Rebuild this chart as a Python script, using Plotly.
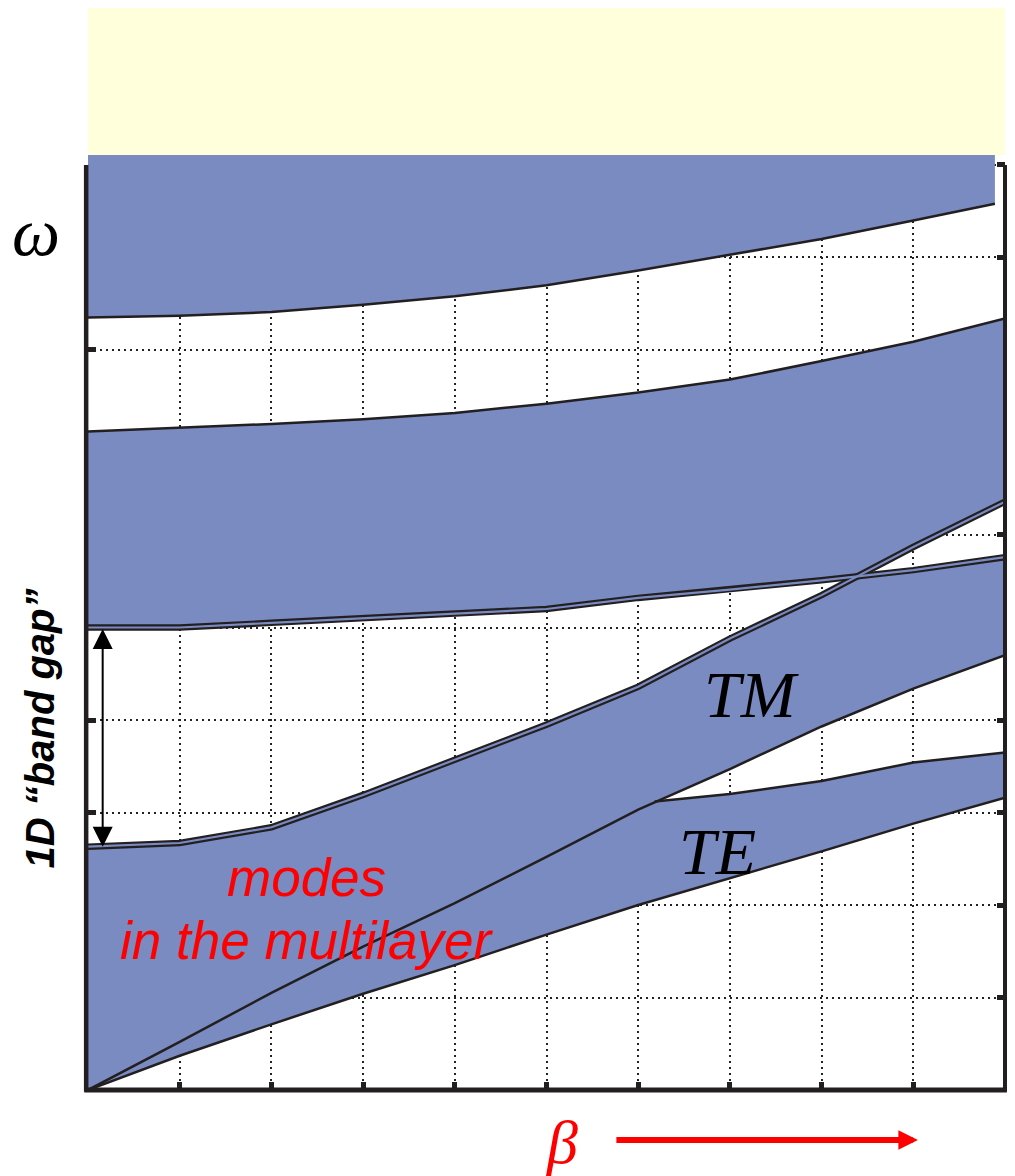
import plotly.graph_objects as go

# ---------------- data ----------------
BETA = [0, 1, 2, 3, 4, 5, 6, 7, 8, 9, 10]
TOP_X = [0, 1, 2, 3, 4, 5, 6, 7, 8, 9, 9.89]
TOP_EDGE = [8.35, 8.37, 8.41, 8.49, 8.58, 8.70, 8.86, 9.03, 9.20, 9.40, 9.58]
BAND2_TOP = [7.12, 7.16, 7.20, 7.25, 7.32, 7.42, 7.54, 7.68, 7.88, 8.09, 8.34]
BAND2_BOT = [5.00, 5.00, 5.05, 5.10, 5.15, 5.20, 5.32, 5.41, 5.51, 5.62, 5.76]
TM_TOP = [2.63, 2.67, 2.84, 3.19, 3.57, 3.95, 4.36, 4.88, 5.35, 5.87, 6.36]
TM_BOT = [0, 0.52, 1.05, 1.55, 2.02, 2.52, 3.03, 3.47, 3.93, 4.34, 4.70]
TE_TOP_X = [6.18, 7, 8, 9, 10]
TE_TOP = [3.12, 3.20, 3.34, 3.54, 3.65]
TE_BOT = [0, 0.37, 0.71, 1.04, 1.35, 1.68, 2.00, 2.29, 2.58, 2.88, 3.16]
GRID_TICKS = [1, 2, 3, 4, 5, 6, 7, 8, 9]
Y_TICKS = [1, 2, 3, 4, 5, 6, 7, 8, 9, 10]

# ---------------- style ----------------
BLUE = "#798BC0"
INK = "#231F20"
YELLOW = "#FFFFDC"
X_MAX = 10
Y_MAX = 10.108


def envelope(x, a, b):
    xs, lo, hi = [], [], []
    for i in range(len(x)):
        if i > 0:
            d0 = a[i - 1] - b[i - 1]
            d1 = a[i] - b[i]
            if d0 * d1 < 0:
                t = d0 / (d0 - d1)
                xc = x[i - 1] + t * (x[i] - x[i - 1])
                yc = a[i - 1] + t * (a[i] - a[i - 1])
                xs.append(xc); lo.append(yc); hi.append(yc)
        xs.append(x[i]); lo.append(min(a[i], b[i])); hi.append(max(a[i], b[i]))
    return xs, lo, hi


env_x, env_lo, env_hi = envelope(BETA, BAND2_BOT, TM_TOP)

fig = go.Figure()


def poly(x, y):
    fig.add_trace(go.Scatter(x=x, y=y, mode="lines", fill="toself",
                             fillcolor=BLUE, line=dict(width=0, color=BLUE),
                             hoverinfo="skip", showlegend=False))


def line(x, y, width, color=INK):
    fig.add_trace(go.Scatter(x=x, y=y, mode="lines",
                             line=dict(width=width, color=color),
                             hoverinfo="skip", showlegend=False))


# top band
poly(TOP_X + [TOP_X[-1], TOP_X[0]], TOP_EDGE + [Y_MAX, Y_MAX])
# second band
poly(BETA + env_x[::-1], BAND2_TOP + env_hi[::-1])
# TM band
poly(BETA + env_x[::-1], TM_BOT + env_lo[::-1])
# TE band
left_part = [(b, v) for b, v in zip(BETA, TM_BOT) if b < TE_TOP_X[0]][::-1]
poly(BETA + TE_TOP_X[::-1] + [p[0] for p in left_part],
     TE_BOT + TE_TOP[::-1] + [p[1] for p in left_part])

# double lines
for yy in (BAND2_BOT, TM_TOP):
    line(BETA, yy, 6.5)
for yy in (BAND2_BOT, TM_TOP):
    line(BETA, yy, 2.2, BLUE)

# single lines
line(TOP_X, TOP_EDGE, 2.5)
line(BETA, BAND2_TOP, 2.5)
line(BETA, TM_BOT, 2.5)
line(TE_TOP_X, TE_TOP, 2.5)
line(BETA, TE_BOT, 2.5)

grid_common = dict(showgrid=True, gridcolor="#222222", gridwidth=1.6,
                   griddash="1.8px,4.2px", zeroline=False, showline=False,
                   ticks="inside", ticklen=8, tickwidth=5, tickcolor=INK,
                   showticklabels=False, layer="below traces")

fig.update_xaxes(range=[0, X_MAX], tickvals=GRID_TICKS, **grid_common)
fig.update_yaxes(range=[0, Y_MAX], tickvals=Y_TICKS, mirror="ticks", **grid_common)

ytop_frac = 10 / Y_MAX
shapes = [
    dict(type="rect", xref="paper", yref="paper", x0=0, x1=1, y0=1.0, y1=1.16,
         fillcolor=YELLOW, line=dict(width=0), layer="below"),
    dict(type="line", xref="paper", yref="paper", x0=-0.002, x1=-0.002, y0=-0.002, y1=ytop_frac,
         line=dict(color=INK, width=4.5)),
    dict(type="line", xref="paper", yref="paper", x0=1, x1=1, y0=-0.002, y1=ytop_frac,
         line=dict(color=INK, width=4)),
    dict(type="line", xref="paper", yref="paper", x0=-0.004, x1=1.002, y0=0, y1=0,
         line=dict(color=INK, width=5)),
]

C = dict(xanchor="center", yanchor="middle")
annotations = [
    dict(text="ω", xref="paper", yref="paper", x=-0.0567, y=0.918, showarrow=False,
         font=dict(family="Liberation Serif", size=68, color="black", style="italic"), **C),
    dict(text="<b><i>1D “band gap”</i></b>", xref="paper", yref="paper", x=-0.052, y=0.387,
         textangle=-90, showarrow=False,
         font=dict(family="Liberation Sans", size=40, color="black"), **C),
    dict(text="TM", x=7.24, y=4.28, showarrow=False,
         font=dict(family="Liberation Serif", size=66, color="black", style="italic"), **C),
    dict(text="TE", x=6.87, y=2.58, showarrow=False,
         font=dict(family="Liberation Serif", size=66, color="black", style="italic"), **C),
    dict(text="modes", x=2.38, y=2.30, showarrow=False,
         font=dict(family="Liberation Sans", size=53, color="#FF0000", style="italic"), **C),
    dict(text="in the multilayer", x=2.39, y=1.62, showarrow=False,
         font=dict(family="Liberation Sans", size=53, color="#FF0000", style="italic"), **C),
    dict(text="β", xref="paper", yref="paper", x=0.517, y=-0.0556, showarrow=False,
         font=dict(family="Liberation Serif", size=62, color="#FF0000", style="italic"), **C),
    # band gap double arrow
    dict(text="", x=0.16, y=TM_TOP[0], ax=0.16, ay=BAND2_BOT[0], axref="x", ayref="y",
         showarrow=True, arrowhead=2, startarrowhead=2, arrowside="end+start",
         arrowwidth=2, arrowsize=2.0, startarrowsize=2.0, arrowcolor="black",
         standoff=0, startstandoff=0),
    # beta direction arrow
    dict(text="", xref="paper", yref="paper", x=0.905, y=-0.0535, ax=-303, ay=0,
         showarrow=True, arrowhead=2, arrowwidth=6, arrowsize=0.65, arrowcolor="#FF0000",
         standoff=0),
]

# page body has an 8px margin, so the figure is sized to fit the window
fig.update_layout(
    width=1007, height=1168,
    margin=dict(l=80, r=10, t=147, b=86),
    paper_bgcolor="white", plot_bgcolor="white",
    shapes=shapes, annotations=annotations, showlegend=False,
)

fig.write_html("out.html")
